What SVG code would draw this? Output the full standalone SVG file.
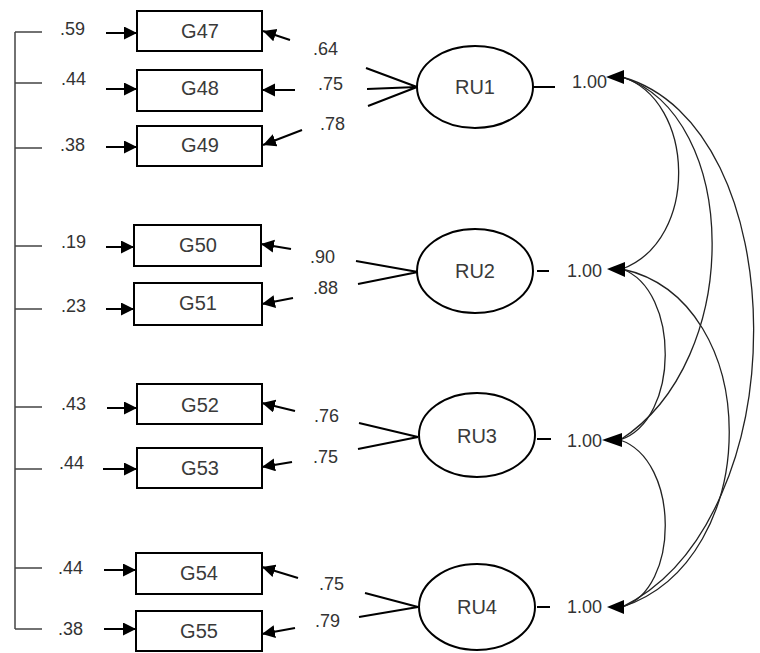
<svg xmlns="http://www.w3.org/2000/svg" width="760" height="653" viewBox="0 0 760 653">
<style>
.box{fill:#fff;stroke:#000;stroke-width:2}
.ell{fill:#fff;stroke:#000;stroke-width:2}
.nt{font-family:"Liberation Sans",Arial,sans-serif;font-size:20px;fill:#3a3a3a;text-anchor:middle}
.lb{font-family:"Liberation Sans",Arial,sans-serif;font-size:18px;fill:#333}
.one{font-family:"Liberation Sans",Arial,sans-serif;font-size:18px;fill:#333}
.ln{stroke:#000;stroke-width:2;fill:none}
.ar{stroke:#000;stroke-width:2;fill:none;marker-end:url(#ah)}
.br{stroke:#444;stroke-width:1.5;fill:none}
.cv{stroke:#222;stroke-width:1.3;fill:none}
.hd{fill:#000}
</style>
<defs>
<marker id="ah" markerUnits="userSpaceOnUse" markerWidth="14" markerHeight="14" refX="13" refY="6.5" orient="auto">
<path d="M0,0 L13,6.5 L0,13 z" fill="#000"/>
</marker>
</defs>
<rect width="760" height="653" fill="#fff"/>
<g id="connectors">
<path class="br" d="M15,32 V629 M15,32 H42 M15,83 H42 M15,148 H42 M15,246 H42 M15,309 H42 M15,407 H42 M15,469 H42 M15,568 H42 M15,629 H42"/>
<line class="ar" x1="106" y1="33" x2="137" y2="33"/>
<line class="ar" x1="106" y1="89" x2="137" y2="89"/>
<line class="ar" x1="106" y1="147" x2="137" y2="147"/>
<line class="ar" x1="106" y1="247" x2="134" y2="247"/>
<line class="ar" x1="106" y1="309" x2="134" y2="309"/>
<line class="ar" x1="107" y1="408" x2="137" y2="408"/>
<line class="ar" x1="103" y1="469" x2="137" y2="469"/>
<line class="ar" x1="104" y1="570" x2="136" y2="570"/>
<line class="ar" x1="104" y1="629" x2="136" y2="629"/>
<line class="ar" x1="290" y1="40" x2="263" y2="31"/>
<line class="ar" x1="295" y1="90" x2="262" y2="90"/>
<line class="ar" x1="302" y1="130" x2="263" y2="145"/>
<line class="ar" x1="291" y1="249" x2="261" y2="244"/>
<line class="ar" x1="293" y1="298" x2="262" y2="304"/>
<line class="ar" x1="295" y1="411" x2="262" y2="403"/>
<line class="ar" x1="292" y1="462" x2="262" y2="467"/>
<line class="ar" x1="298" y1="578" x2="262" y2="567"/>
<line class="ar" x1="295" y1="628" x2="262" y2="634"/>
<path class="ln" d="M366,68 L417,87 M367,89 L417,87 M368,106 L417,87"/>
<path class="ln" d="M356,261 L418,272 M358,284 L418,272"/>
<path class="ln" d="M359,423 L418,437 M358,449 L418,437"/>
<path class="ln" d="M365,593 L418,607 M359,617 L418,607"/>
<path class="ln" d="M533,87 H555 M537,271 H549 M537,439 H551 M537,607 H550"/>
<path class="cv" d="M622,77 C695,100 700,240 622,269"/>
<path class="cv" d="M622,77 C740,115 745,360 620,440"/>
<path class="cv" d="M622,77 C795,125 800,520 622,607"/>
<path class="cv" d="M622,269 C680,290 680,420 620,440"/>
<path class="cv" d="M622,269 C765,300 765,560 622,607"/>
<path class="cv" d="M620,440 C680,460 680,590 622,607"/>
<polygon class="hd" points="606,77 624,70 624,84"/>
<polygon class="hd" points="607,269 625,262 625,277"/>
<polygon class="hd" points="602,440 622,433 622,447"/>
<polygon class="hd" points="607,607 624,600 624,614"/>
</g>
<g id="G47"><rect class="box" x="137" y="11" width="125" height="40"/><text class="nt" x="200" y="38">G47</text></g>
<g id="G48"><rect class="box" x="137" y="70" width="125" height="41"/><text class="nt" x="200" y="95">G48</text></g>
<g id="G49"><rect class="box" x="137" y="126" width="125" height="40"/><text class="nt" x="200" y="152">G49</text></g>
<g id="G50"><rect class="box" x="134" y="225" width="127" height="41"/><text class="nt" x="198" y="252">G50</text></g>
<g id="G51"><rect class="box" x="134" y="283" width="128" height="42"/><text class="nt" x="198" y="310">G51</text></g>
<g id="G52"><rect class="box" x="137" y="384" width="125" height="40"/><text class="nt" x="200" y="412">G52</text></g>
<g id="G53"><rect class="box" x="137" y="448" width="125" height="40"/><text class="nt" x="200" y="475">G53</text></g>
<g id="G54"><rect class="box" x="136" y="553" width="126" height="41"/><text class="nt" x="199" y="580">G54</text></g>
<g id="G55"><rect class="box" x="136" y="611" width="126" height="40"/><text class="nt" x="199" y="638">G55</text></g>
<g id="RU1"><ellipse class="ell" cx="475" cy="87" rx="58" ry="41"/><text class="nt" x="475" y="94">RU1</text></g>
<g id="RU2"><ellipse class="ell" cx="475" cy="271" rx="58" ry="42"/><text class="nt" x="475" y="278">RU2</text></g>
<g id="RU3"><ellipse class="ell" cx="477" cy="435" rx="58" ry="42"/><text class="nt" x="477" y="443">RU3</text></g>
<g id="RU4"><ellipse class="ell" cx="477" cy="607" rx="58" ry="43"/><text class="nt" x="477" y="614">RU4</text></g>
<g id="labels">
<text class="lb" x="60" y="35">.59</text>
<text class="lb" x="61" y="85">.44</text>
<text class="lb" x="60" y="151">.38</text>
<text class="lb" x="61" y="248">.19</text>
<text class="lb" x="61" y="312">.23</text>
<text class="lb" x="61" y="410">.43</text>
<text class="lb" x="59" y="469">.44</text>
<text class="lb" x="58" y="574">.44</text>
<text class="lb" x="58" y="635">.38</text>
<text class="lb" x="313" y="55">.64</text>
<text class="lb" x="318" y="90">.75</text>
<text class="lb" x="320" y="130">.78</text>
<text class="lb" x="310" y="263">.90</text>
<text class="lb" x="313" y="294">.88</text>
<text class="lb" x="314" y="422">.76</text>
<text class="lb" x="313" y="463">.75</text>
<text class="lb" x="319" y="590">.75</text>
<text class="lb" x="315" y="627">.79</text>
<text class="one" x="572" y="88">1.00</text>
<text class="one" x="567" y="277">1.00</text>
<text class="one" x="567" y="447">1.00</text>
<text class="one" x="567" y="613">1.00</text>
</g>
</svg>
